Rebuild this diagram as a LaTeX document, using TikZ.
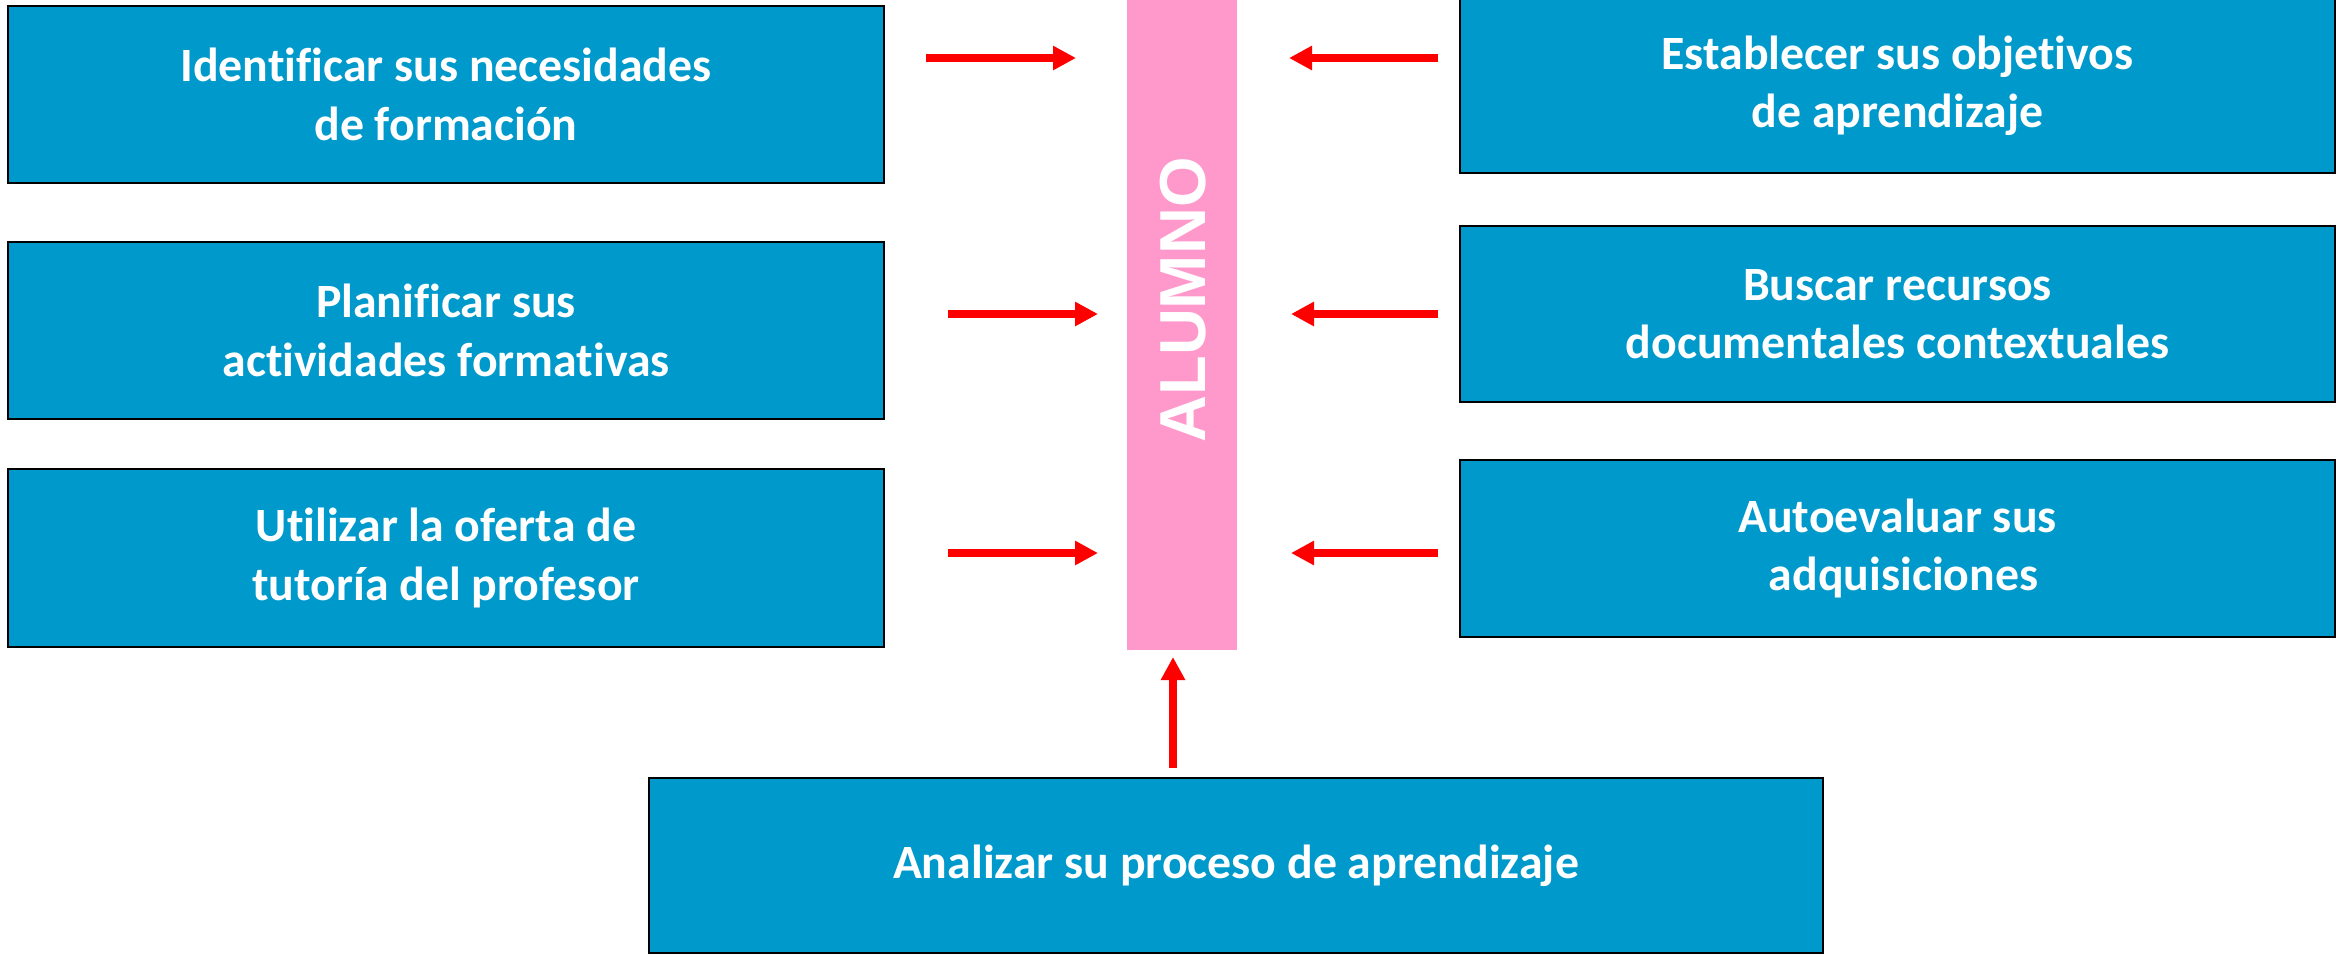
\documentclass[tikz,border=0pt]{standalone}
\usepackage{fontspec}
\setmainfont{Carlito}[Ligatures=NoCommon]
\newfontfamily\alumnofont{Liberation Sans}
\usetikzlibrary{arrows.meta}
\definecolor{boxblue}{RGB}{0,153,204}
\definecolor{barpink}{RGB}{255,153,204}
\definecolor{arrred}{RGB}{255,0,0}
\tikzset{
  taskbox/.style={draw=black, line width=1pt, fill=boxblue, text=white,
    inner sep=0pt, align=center, font=\fontsize{23.9}{29.2}\selectfont\bfseries},
  redarrow/.style={draw=arrred, line width=4pt,
    -{Triangle[length=11.5pt,width=11.5pt]}},
}
\begin{document}
\begin{tikzpicture}[x=0.5pt,y=-0.5pt]
\useasboundingbox (0,0) rectangle (2343,954);
% central bar
\node[fill=barpink, inner sep=0pt, minimum width=55pt, minimum height=325pt] (alumno) at (1182,325) {};
\node[rotate=90, text=white, inner sep=0pt, font=\alumnofont\fontsize{32.5}{36}\selectfont\bfseries] (alumnotxt) at (1183,300) {ALUMNO};
% left boxes
\node[taskbox, minimum width=438pt, minimum height=88.5pt] (b1) at (446,94.5) {Identificar sus necesidades\\de formación};
\node[taskbox, minimum width=438pt, minimum height=88.5pt] (b2) at (446,330.5) {Planificar sus\\actividades formativas};
\node[taskbox, minimum width=438pt, minimum height=89pt] (b3) at (446,558) {Utilizar la oferta de\\tutoría del profesor};
% right boxes
\node[taskbox, minimum width=437.5pt, minimum height=87.5pt] (r1) at (1897.5,85.5) {Establecer sus objetivos\\de aprendizaje};
\node[taskbox, minimum width=437.5pt, minimum height=88pt] (r2) at (1897.5,314) {Buscar recursos\\documentales contextuales};
\node[taskbox, minimum width=437.5pt, minimum height=88.5pt] (r3) at (1897.5,548.5) {Autoevaluar sus\\\hspace*{0.25em}adquisiciones};
% bottom box
\node[taskbox, minimum width=587pt, minimum height=87.5pt] (bot) at (1236,865.5) {Analizar su proceso de aprendizaje};
% arrow ends
\coordinate (l1s) at (926,58);  \coordinate (l1e) at (1076,58);
\coordinate (l2s) at (948,314); \coordinate (l2e) at (1098,314);
\coordinate (l3s) at (948,553); \coordinate (l3e) at (1098,553);
\coordinate (r1s) at (1438,58);  \coordinate (r1e) at (1289,58);
\coordinate (r2s) at (1438,314); \coordinate (r2e) at (1291,314);
\coordinate (r3s) at (1438,553); \coordinate (r3e) at (1291,553);
\coordinate (bs) at (1173,768); \coordinate (be) at (1173,657);
\draw[redarrow] (l1s) -- (l1e);
\draw[redarrow] (l2s) -- (l2e);
\draw[redarrow] (l3s) -- (l3e);
\draw[redarrow] (r1s) -- (r1e);
\draw[redarrow] (r2s) -- (r2e);
\draw[redarrow] (r3s) -- (r3e);
\draw[redarrow] (bs) -- (be);
\end{tikzpicture}
\end{document}
